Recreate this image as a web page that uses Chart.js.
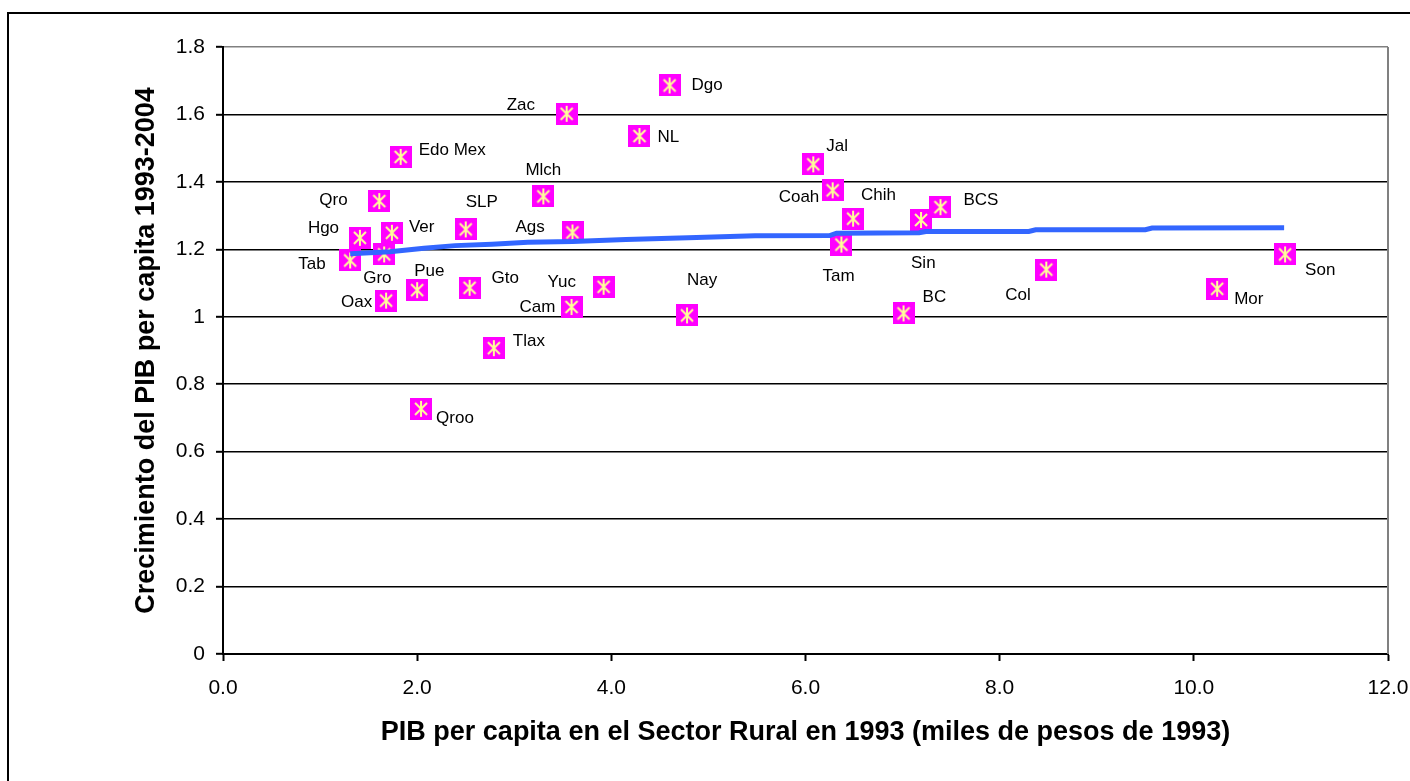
<!DOCTYPE html>
<html>
<head>
<meta charset="utf-8">
<script src="https://cdn.jsdelivr.net/npm/chart.js@4"></script>
<style>
  html, body { margin: 0; padding: 0; background: #fff; }
  #wrap { width: 1410px; height: 781px; position: relative; }
</style>
</head>
<body>
<div id="wrap"><canvas id="chart"></canvas></div>
<script>
// states and their values
const states = ["Tab", "Hgo", "Qro", "Edo Mex", "Ver", "Gro", "Oax", "Pue", "Gto", "SLP",
  "Mlch", "Ags", "Zac", "Dgo", "NL", "Yuc", "Cam", "Tlax", "Qroo", "Nay",
  "Jal", "Coah", "Chih", "Tam", "Sin", "BCS", "BC", "Col", "Mor", "Son"];
// PIB per capita rural 1993 (miles de pesos)
const pibRural = [1.31, 1.41, 1.61, 1.83, 1.74, 1.66, 1.68, 2.00, 2.54, 2.50,
  3.30, 3.60, 3.54, 4.60, 4.29, 3.92, 3.59, 2.79, 2.04, 4.78,
  6.08, 6.28, 6.49, 6.37, 7.19, 7.39, 7.01, 8.48, 10.24, 10.94];
// crecimiento del PIB per capita 1993-2004
const growth = [1.167, 1.234, 1.343, 1.474, 1.249, 1.185, 1.048, 1.079, 1.086, 1.259,
  1.357, 1.250, 1.602, 1.686, 1.536, 1.089, 1.029, 0.907, 0.727, 1.004,
  1.452, 1.375, 1.291, 1.214, 1.287, 1.325, 1.010, 1.140, 1.083, 1.185];

// fitted trend line (blue), vertices
const trendX = [1.31, 1.72, 2.07, 2.39, 2.77, 3.14, 3.60, 4.15, 4.79, 5.48,
  6.25, 6.32, 7.17, 7.24, 8.30, 8.37, 9.50, 9.57, 10.93];
const trendY = [1.187, 1.193, 1.203, 1.211, 1.215, 1.221, 1.223, 1.229, 1.234, 1.240,
  1.241, 1.248, 1.249, 1.253, 1.253, 1.258, 1.258, 1.263, 1.264];

const yTicks = [0, 0.2, 0.4, 0.6, 0.8, 1, 1.2, 1.4, 1.6, 1.8];
const xTicks = [0, 2, 4, 6, 8, 10, 12];

// label placement relative to marker centre (px), text left-aligned
const labelDx = [-52, -52, -60, 18, 17, -21, -45, -3, 22, 0,
  -18, -57, -60, 22, 18, -56, -52, 19, 15, 0,
  13, -54, 8, -19, -10, 23, 19, -41, 17, 20];
const labelDy = [4, -10, -1, -7, -5, 24, 2, -19, -9, -27,
  -26, -5, -8, 0, 1, -4, 0, -7, 9, -35,
  -18, 7, -23, 32, 43, -7, -16, 26, 11, 16];

const FONT = "'Liberation Sans', Arial, sans-serif";

// magenta square with a yellow asterisk
function makeMarker() {
  const c = document.createElement('canvas');
  c.width = 22; c.height = 22;
  const g = c.getContext('2d');
  g.fillStyle = '#ff00ff';
  g.fillRect(0, 0, 22, 22);
  g.strokeStyle = '#ffff99';
  g.lineWidth = 2;
  g.beginPath();
  g.moveTo(11, 3); g.lineTo(11, 19);
  g.moveTo(5, 5); g.lineTo(17, 17);
  g.moveTo(17, 5); g.lineTo(5, 17);
  g.stroke();
  return c;
}

const labelPlugin = {
  id: 'pointLabels',
  afterDatasetsDraw(chart) {
    const { ctx, scales: { x, y } } = chart;
    ctx.save();
    ctx.font = '17px ' + FONT;
    ctx.fillStyle = '#000';
    ctx.textAlign = 'left';
    ctx.textBaseline = 'middle';
    states.forEach((s, i) => {
      const px = x.getPixelForValue(pibRural[i]);
      const py = y.getPixelForValue(growth[i]);
      ctx.fillText(s, px + labelDx[i], py + labelDy[i]);
    });
    ctx.restore();
  }
};

const framePlugin = {
  id: 'frame',
  beforeDraw(chart) {
    const { ctx } = chart;
    ctx.save();
    ctx.fillStyle = '#fff';
    ctx.fillRect(0, 0, chart.width, chart.height);
    ctx.strokeStyle = '#000';
    ctx.lineWidth = 2;
    ctx.strokeRect(8, 13, chart.width + 20, chart.height + 20);
    ctx.restore();
  },
  afterDraw(chart) {
    const { ctx, chartArea: a } = chart;
    ctx.save();
    ctx.strokeStyle = '#808080';
    ctx.lineWidth = 2;
    ctx.beginPath();
    ctx.moveTo(a.right, a.top);
    ctx.lineTo(a.right, a.bottom);
    ctx.stroke();
    ctx.restore();
  }
};

window.addEventListener('DOMContentLoaded', () => {
  const marker = makeMarker();
  new Chart(document.getElementById('chart'), {
    type: 'scatter',
    data: {
      datasets: [
        {
          label: 'Estados',
          data: pibRural.map((v, i) => ({ x: v, y: growth[i] })),
          pointStyle: marker,
          pointRadius: 11,
          order: 1
        },
        {
          type: 'line',
          label: 'Tendencia',
          data: trendX.map((v, i) => ({ x: v, y: trendY[i] })),
          borderColor: '#3366ff',
          borderWidth: 5,
          pointRadius: 0,
          fill: false,
          tension: 0,
          order: 0
        }
      ]
    },
    options: {
      responsive: true,
      maintainAspectRatio: false,
      animation: false,
      layout: { padding: { left: 0, right: 22, top: 47, bottom: 0 } },
      plugins: {
        legend: { display: false },
        tooltip: { enabled: false }
      },
      scales: {
        x: {
          type: 'linear',
          min: 0, max: 12,
          afterBuildTicks: s => { s.ticks = xTicks.map(v => ({ value: v })); },
          afterFit: s => { s.height = 127; s.paddingLeft = 0; s.paddingRight = 0; },
          ticks: {
            padding: 15,
            color: '#000',
            font: { family: FONT, size: 21 },
            callback: v => v.toFixed(1)
          },
          grid: { drawOnChartArea: false, drawTicks: true, tickLength: 7, tickColor: '#000', tickWidth: 2 },
          border: { display: true, color: '#000', width: 2 },
          title: {
            display: true,
            text: 'PIB per capita en el Sector Rural en 1993 (miles de pesos de 1993)',
            color: '#000',
            font: { family: FONT, size: 27, weight: 'bold' },
            padding: { top: 0, bottom: 32 }
          }
        },
        y: {
          type: 'linear',
          min: 0, max: 1.8,
          afterBuildTicks: s => { s.ticks = yTicks.map(v => ({ value: v })); },
          afterFit: s => { s.width = 223; s.paddingTop = 0; s.paddingBottom = 0; },
          ticks: {
            padding: 11,
            color: '#000',
            font: { family: FONT, size: 21 },
            callback: v => String(v)
          },
          grid: {
            color: c => (c.tick && c.tick.value === 1.8) ? '#808080' : '#000',
            lineWidth: 1.6,
            tickLength: 7,
            tickColor: '#000',
            tickWidth: 2
          },
          border: { display: true, color: '#000', width: 2 },
          title: {
            display: true,
            text: 'Crecimiento del PIB per capita 1993-2004',
            color: '#000',
            font: { family: FONT, size: 27, weight: 'bold' },
            padding: { top: 130, bottom: 0 }
          }
        }
      }
    },
    plugins: [labelPlugin, framePlugin]
  });
});
</script>
</body>
</html>
